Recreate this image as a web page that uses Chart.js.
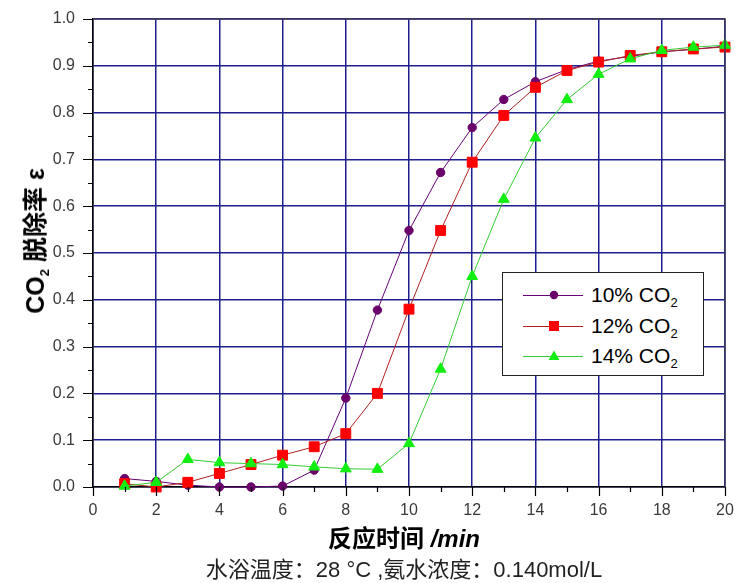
<!DOCTYPE html>
<html>
<head>
<meta charset="utf-8">
<script src="https://cdn.jsdelivr.net/npm/chart.js@4"></script>
<style>
  html, body { margin: 0; padding: 0; background: #fff; }
  #wrap { position: relative; width: 735px; height: 583px; overflow: hidden; }
  #c { position: absolute; left: 0; top: 0; }
  .t { position: absolute; white-space: nowrap; color: #000; font-family: "Liberation Sans", Arial, "Noto Sans CJK SC", sans-serif; }
  #ytitle { left: 33px; top: 241px; transform: translate(-50%, -50%) rotate(-90deg); font-weight: bold; font-size: 25px; }
  #xtitle { left: 404px; top: 536px; transform: translate(-50%, -50%); font-weight: bold; font-size: 24px; }
  #caption { left: 404px; top: 567px; transform: translate(-50%, -50%); font-size: 22px; color: #222; }
  sub { font-size: 13px; vertical-align: -5px; line-height: 0; }
  #legend { position: absolute; left: 502px; top: 272px; width: 202px; height: 104px; box-sizing: border-box; border: 1.5px solid #222; background: #fff; }
  .row { position: absolute; left: 0; width: 200px; height: 24px; }
  .row svg { position: absolute; left: 19px; top: 2px; }
  .row span { position: absolute; left: 88px; top: 0; font-size: 21px; line-height: 24px; font-family: "Liberation Sans", Arial, sans-serif; color: #000; }
</style>
</head>
<body>
<div id="wrap">
  <canvas id="c" width="735" height="583"></canvas>
  <div id="ytitle" class="t">CO<sub>2</sub> 脱除率 ε</div>
  <div id="xtitle" class="t">反应时间 <i>/min</i></div>
  <div id="caption" class="t">水浴温度：28 °C ,氨水浓度：0.140mol/L</div>
  <div id="legend"></div>
</div>
<script>
// ---- data ----
const times = [1,2,3,4,5,6,7,8,9,10,11,12,13,14,15,16,17,18,19,20];
const seriesNames = ["10% CO", "12% CO", "14% CO"];
const co2_10 = [0.018,0.012,0.004,0.000,0.000,0.002,0.036,0.190,0.378,0.548,0.672,0.768,0.828,0.866,0.892,0.910,0.920,0.930,0.935,0.942];
const co2_12 = [0.007,0.000,0.010,0.029,0.048,0.068,0.086,0.114,0.200,0.380,0.548,0.694,0.794,0.854,0.890,0.908,0.922,0.930,0.936,0.940];
const co2_14 = [0.002,0.010,0.059,0.052,0.050,0.048,0.043,0.039,0.038,0.093,0.252,0.450,0.615,0.746,0.828,0.882,0.915,0.933,0.940,0.944];
const xTicks = [0,2,4,6,8,10,12,14,16,18,20];
const yTicks = [0.0,0.1,0.2,0.3,0.4,0.5,0.6,0.7,0.8,0.9,1.0];

const styles = [
  { line: '#660077', fill: '#6b006b', pointStyle: 'circle', radius: 4.2 },
  { line: '#b02020', fill: '#ff0000', pointStyle: 'rect', radius: 7 },
  { line: '#33cc33', fill: '#11ee11', pointStyle: 'triangle', radius: 6.3 }
];
const values = [co2_10, co2_12, co2_14];

const datasets = values.map((arr, i) => ({
  label: seriesNames[i] + '2',
  data: times.map((t, k) => ({ x: t, y: arr[k] })),
  borderColor: styles[i].line,
  backgroundColor: styles[i].fill,
  pointBackgroundColor: styles[i].fill,
  pointBorderColor: styles[i].fill,
  pointBorderWidth: 1,
  pointStyle: styles[i].pointStyle,
  pointRadius: styles[i].radius,
  borderWidth: 1,
  tension: 0,
  clip: false,
  order: 3 - i
}));

const GRID = '#1e1e8e';

const frameTicks = {
  id: 'frameTicks',
  afterDraw(chart) {
    const ctx = chart.ctx, a = chart.chartArea;
    const xs = chart.scales.x, ys = chart.scales.y;
    ctx.save();
    ctx.strokeStyle = '#3c3c5c';
    ctx.lineWidth = 1.5;
    ctx.beginPath();
    ctx.moveTo(a.left, a.top); ctx.lineTo(a.right, a.top); ctx.lineTo(a.right, a.bottom);
    ctx.stroke();
    ctx.strokeStyle = '#000';
    ctx.lineWidth = 1.2;
    ctx.beginPath();
    for (let v = 0; v <= 20; v++) {
      const px = Math.round(xs.getPixelForValue(v)) + 0.5;
      const len = v % 2 === 0 ? 9 : 5;
      ctx.moveTo(px, a.bottom); ctx.lineTo(px, a.bottom + len);
    }
    for (let k = 0; k <= 20; k++) {
      const v = k * 0.05;
      const py = Math.round(ys.getPixelForValue(v)) + 0.5;
      const len = k % 2 === 0 ? 10 : 5;
      ctx.moveTo(a.left, py); ctx.lineTo(a.left - len, py);
    }
    ctx.stroke();
    ctx.restore();
  }
};

new Chart(document.getElementById('c'), {
  type: 'line',
  data: { datasets },
  options: {
    responsive: false,
    devicePixelRatio: 1,
    animation: false,
    layout: { autoPadding: false, padding: { top: 19, right: 10, bottom: 0, left: 0 } },
    plugins: { legend: { display: false }, tooltip: { enabled: false } },
    scales: {
      x: {
        type: 'linear', min: 0, max: 20,
        afterFit: s => { s.height = 96; },
        afterBuildTicks: s => { s.ticks = xTicks.map(v => ({ value: v })); },
        ticks: { padding: 0, color: '#3a3a3a', font: { family: 'Liberation Sans, Arial', size: 16 }, maxRotation: 0, autoSkip: false, callback: v => String(v) },
        grid: { color: GRID, lineWidth: 1.5, drawTicks: true, tickLength: 14, tickColor: 'rgba(0,0,0,0)' },
        border: { color: '#000', width: 1.5 }
      },
      y: {
        type: 'linear', min: 0, max: 1,
        afterFit: s => { s.width = 93; },
        afterBuildTicks: s => { s.ticks = yTicks.map(v => ({ value: v })); },
        ticks: { padding: 0, color: '#3a3a3a', font: { family: 'Liberation Sans, Arial', size: 16 }, autoSkip: false, callback: v => Number(v).toFixed(1) },
        grid: { color: GRID, lineWidth: 1.5, drawTicks: true, tickLength: 18, tickColor: 'rgba(0,0,0,0)' },
        border: { color: '#000', width: 1.5 }
      }
    }
  },
  plugins: [frameTicks]
});

// ---- HTML legend built from the datasets ----
const legend = document.getElementById('legend');
const rowTops = [10, 41, 71];
datasets.forEach((ds, i) => {
  const s = styles[i];
  let marker = '';
  if (s.pointStyle === 'circle') marker = `<circle cx="32" cy="10" r="4.2" fill="${s.fill}"/>`;
  else if (s.pointStyle === 'rect') marker = `<rect x="27" y="5" width="10" height="10" fill="${s.fill}"/>`;
  else marker = `<polygon points="32,4.5 37.5,14 26.5,14" fill="${s.fill}"/>`;
  const row = document.createElement('div');
  row.className = 'row';
  row.style.top = rowTops[i] + 'px';
  row.innerHTML = `<svg width="64" height="20"><line x1="1" y1="10.5" x2="61" y2="10.5" stroke="${s.line}" stroke-width="1.2"/>${marker}</svg><span>${seriesNames[i]}<sub>2</sub></span>`;
  legend.appendChild(row);
});
</script>
</body>
</html>
